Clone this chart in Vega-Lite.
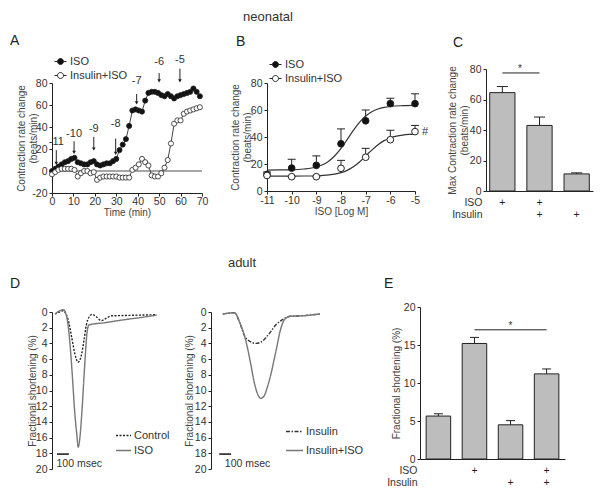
{
"$schema":"https://vega.github.io/schema/vega-lite/v6.json",
"autosize":{"type":"none"},
"padding":{"left":52,"top":69,"right":550,"bottom":426},
"background":"white",
"config":{
 "font":"Liberation Sans",
 "view":{"stroke":null},
 "axis":{"labelFontSize":10.5,"labelColor":"#333","titleFontSize":10,"titleFontWeight":"normal","titleColor":"#444","domainColor":"#222","tickColor":"#222","grid":false,"tickSize":3,"labelPadding":2,"titlePadding":4,"labelOverlap":false,"labelFlush":false,"titleLineHeight":12},
 "title":{"fontWeight":"normal","fontSize":14,"color":"#222","anchor":"start","frame":"group"},
 "legend":{"labelFontSize":11,"labelColor":"#333","padding":0,"rowPadding":2}
},
"datasets":{
 "tc":[
  {"t":0,"v":0,"s":"ISO"},{"t":1.5,"v":2,"s":"ISO"},{"t":3,"v":4,"s":"ISO"},{"t":4.5,"v":6,"s":"ISO"},{"t":6,"v":8,"s":"ISO"},{"t":7.5,"v":9,"s":"ISO"},{"t":9,"v":11,"s":"ISO"},{"t":10.5,"v":12,"s":"ISO"},{"t":12,"v":8,"s":"ISO"},{"t":13.5,"v":7,"s":"ISO"},{"t":15,"v":6,"s":"ISO"},{"t":16.5,"v":6,"s":"ISO"},{"t":18,"v":8,"s":"ISO"},{"t":19.5,"v":9,"s":"ISO"},{"t":21,"v":6,"s":"ISO"},{"t":22.5,"v":5,"s":"ISO"},{"t":24,"v":6,"s":"ISO"},{"t":25.5,"v":7,"s":"ISO"},{"t":27,"v":7,"s":"ISO"},{"t":28.5,"v":9,"s":"ISO"},{"t":30,"v":11,"s":"ISO"},{"t":31.5,"v":19,"s":"ISO"},{"t":33,"v":24,"s":"ISO"},{"t":34.5,"v":29,"s":"ISO"},{"t":36,"v":41,"s":"ISO"},{"t":37.5,"v":55,"s":"ISO"},{"t":39,"v":56,"s":"ISO"},{"t":40.5,"v":55,"s":"ISO"},{"t":42,"v":54,"s":"ISO"},{"t":43.5,"v":64,"s":"ISO"},{"t":45,"v":71,"s":"ISO"},{"t":46.5,"v":72,"s":"ISO"},{"t":48,"v":72,"s":"ISO"},{"t":49.5,"v":71,"s":"ISO"},{"t":51,"v":69,"s":"ISO"},{"t":52.5,"v":68,"s":"ISO"},{"t":54,"v":70,"s":"ISO"},{"t":55.5,"v":68,"s":"ISO"},{"t":57,"v":66,"s":"ISO"},{"t":58.5,"v":68,"s":"ISO"},{"t":60,"v":69,"s":"ISO"},{"t":61.5,"v":70,"s":"ISO"},{"t":63,"v":71,"s":"ISO"},{"t":64.5,"v":72,"s":"ISO"},{"t":66,"v":75,"s":"ISO"},{"t":67.5,"v":72,"s":"ISO"},{"t":69,"v":68,"s":"ISO"},
  {"t":0,"v":-3,"s":"Insulin+ISO"},{"t":1.5,"v":-1,"s":"Insulin+ISO"},{"t":3,"v":1,"s":"Insulin+ISO"},{"t":4.5,"v":2,"s":"Insulin+ISO"},{"t":6,"v":2,"s":"Insulin+ISO"},{"t":7.5,"v":2,"s":"Insulin+ISO"},{"t":9,"v":2,"s":"Insulin+ISO"},{"t":10.5,"v":1,"s":"Insulin+ISO"},{"t":12,"v":-5,"s":"Insulin+ISO"},{"t":13.5,"v":-2,"s":"Insulin+ISO"},{"t":15,"v":0,"s":"Insulin+ISO"},{"t":16.5,"v":0,"s":"Insulin+ISO"},{"t":18,"v":-2,"s":"Insulin+ISO"},{"t":19.5,"v":-1,"s":"Insulin+ISO"},{"t":21,"v":-8,"s":"Insulin+ISO"},{"t":22.5,"v":-6,"s":"Insulin+ISO"},{"t":24,"v":-5,"s":"Insulin+ISO"},{"t":25.5,"v":-5,"s":"Insulin+ISO"},{"t":27,"v":-5,"s":"Insulin+ISO"},{"t":28.5,"v":-5,"s":"Insulin+ISO"},{"t":30,"v":-5,"s":"Insulin+ISO"},{"t":31.5,"v":-6,"s":"Insulin+ISO"},{"t":33,"v":-6,"s":"Insulin+ISO"},{"t":34.5,"v":-6,"s":"Insulin+ISO"},{"t":36,"v":-6,"s":"Insulin+ISO"},{"t":37.5,"v":1,"s":"Insulin+ISO"},{"t":39,"v":3,"s":"Insulin+ISO"},{"t":40.5,"v":6,"s":"Insulin+ISO"},{"t":42,"v":11,"s":"Insulin+ISO"},{"t":43.5,"v":8,"s":"Insulin+ISO"},{"t":45,"v":5,"s":"Insulin+ISO"},{"t":46.5,"v":-4,"s":"Insulin+ISO"},{"t":48,"v":-5,"s":"Insulin+ISO"},{"t":49.5,"v":-5,"s":"Insulin+ISO"},{"t":51,"v":-2,"s":"Insulin+ISO"},{"t":52.5,"v":3,"s":"Insulin+ISO"},{"t":54,"v":10,"s":"Insulin+ISO"},{"t":55.5,"v":25,"s":"Insulin+ISO"},{"t":57,"v":43,"s":"Insulin+ISO"},{"t":58.5,"v":46,"s":"Insulin+ISO"},{"t":60,"v":46,"s":"Insulin+ISO"},{"t":61.5,"v":52,"s":"Insulin+ISO"},{"t":63,"v":54,"s":"Insulin+ISO"},{"t":64.5,"v":55,"s":"Insulin+ISO"},{"t":66,"v":56,"s":"Insulin+ISO"},{"t":67.5,"v":57,"s":"Insulin+ISO"},{"t":69,"v":58,"s":"Insulin+ISO"}
 ],
 "arrows":[
  {"lab":"-11","t":2,"top":19,"tip":7,"ly":26},
  {"lab":"-10","t":10.3,"top":27,"tip":17,"ly":34},
  {"lab":"-9","t":19.5,"top":31,"tip":20,"ly":38},
  {"lab":"-8","t":29.7,"top":29.5,"tip":16,"ly":43},
  {"lab":"-7","t":39.5,"top":70,"tip":62,"ly":82},
  {"lab":"-6","t":50,"top":89,"tip":82,"ly":99},
  {"lab":"-5","t":59.7,"top":93,"tip":82,"ly":101}
 ],
 "dose":[
  {"x":-11,"v":12.3,"e":14,"s":"ISO"},{"x":-10,"v":17,"e":23.5,"s":"ISO"},{"x":-9,"v":19,"e":26,"s":"ISO"},{"x":-8,"v":35,"e":46,"s":"ISO"},{"x":-7,"v":52,"e":60,"s":"ISO"},{"x":-6,"v":64.7,"e":68.7,"s":"ISO"},{"x":-5,"v":64.7,"e":72,"s":"ISO"},
  {"x":-11,"v":11.5,"e":11.5,"s":"Insulin+ISO"},{"x":-10,"v":10.6,"e":10.6,"s":"Insulin+ISO"},{"x":-9,"v":10.6,"e":10.6,"s":"Insulin+ISO"},{"x":-8,"v":16.8,"e":22.7,"s":"Insulin+ISO"},{"x":-7,"v":25,"e":31.6,"s":"Insulin+ISO"},{"x":-6,"v":38,"e":45,"s":"Insulin+ISO"},{"x":-5,"v":44,"e":48.6,"s":"Insulin+ISO"}
 ],
 "fit":[
  {"x":-11,"v":15.5,"s":"ISO"},{"x":-10.5,"v":15.6,"s":"ISO"},{"x":-10,"v":15.7,"s":"ISO"},{"x":-9.5,"v":16.3,"s":"ISO"},{"x":-9,"v":17.8,"s":"ISO"},{"x":-8.75,"v":19.4,"s":"ISO"},{"x":-8.5,"v":22.1,"s":"ISO"},{"x":-8.25,"v":26.1,"s":"ISO"},{"x":-8,"v":31.5,"s":"ISO"},{"x":-7.75,"v":38.1,"s":"ISO"},{"x":-7.5,"v":44.9,"s":"ISO"},{"x":-7.25,"v":50.9,"s":"ISO"},{"x":-7,"v":55.5,"s":"ISO"},{"x":-6.75,"v":58.7,"s":"ISO"},{"x":-6.5,"v":60.7,"s":"ISO"},{"x":-6.25,"v":61.9,"s":"ISO"},{"x":-6,"v":62.6,"s":"ISO"},{"x":-5.5,"v":63.2,"s":"ISO"},{"x":-5,"v":63.4,"s":"ISO"},
  {"x":-11,"v":11,"s":"Insulin+ISO"},{"x":-10,"v":11,"s":"Insulin+ISO"},{"x":-9.5,"v":11.1,"s":"Insulin+ISO"},{"x":-9,"v":11.3,"s":"Insulin+ISO"},{"x":-8.5,"v":11.9,"s":"Insulin+ISO"},{"x":-8.25,"v":12.5,"s":"Insulin+ISO"},{"x":-8,"v":13.6,"s":"Insulin+ISO"},{"x":-7.75,"v":15.3,"s":"Insulin+ISO"},{"x":-7.5,"v":17.9,"s":"Insulin+ISO"},{"x":-7.25,"v":21.5,"s":"Insulin+ISO"},{"x":-7,"v":25.9,"s":"Insulin+ISO"},{"x":-6.75,"v":30.3,"s":"Insulin+ISO"},{"x":-6.5,"v":34.2,"s":"Insulin+ISO"},{"x":-6.25,"v":37.3,"s":"Insulin+ISO"},{"x":-6,"v":39.3,"s":"Insulin+ISO"},{"x":-5.75,"v":40.6,"s":"Insulin+ISO"},{"x":-5.5,"v":41.4,"s":"Insulin+ISO"},{"x":-5.25,"v":41.9,"s":"Insulin+ISO"},{"x":-5,"v":42.2,"s":"Insulin+ISO"}
 ],
 "barsC":[{"g":"a","v":64.5,"e":68.5},{"g":"b","v":43,"e":48.5},{"g":"c","v":11.2,"e":11.9}],
 "barsE":[{"g":"ctl","v":5.65,"e":5.95},{"g":"iso","v":15.2,"e":16},{"g":"ins","v":4.5,"e":5.05},{"g":"insiso","v":11.2,"e":11.85}],
 "trD":[
  {"ms":25,"v":0.25,"s":"Control"},{"ms":60,"v":0.0,"s":"Control"},{"ms":95,"v":-0.15,"s":"Control"},{"ms":122,"v":0.4,"s":"Control"},{"ms":136,"v":1.0,"s":"Control"},{"ms":164,"v":3.1,"s":"Control"},{"ms":192,"v":5.3,"s":"Control"},{"ms":219,"v":6.4,"s":"Control"},{"ms":247,"v":5.5,"s":"Control"},{"ms":269,"v":3.6,"s":"Control"},{"ms":289,"v":1.65,"s":"Control"},{"ms":311,"v":0.67,"s":"Control"},{"ms":339,"v":0.3,"s":"Control"},{"ms":372,"v":0.6,"s":"Control"},{"ms":414,"v":1.1,"s":"Control"},{"ms":455,"v":0.8,"s":"Control"},{"ms":497,"v":0.5,"s":"Control"},{"ms":600,"v":0.45,"s":"Control"},{"ms":719,"v":0.4,"s":"Control"},{"ms":880,"v":0.35,"s":"Control"},
  {"ms":25,"v":0.25,"s":"ISO"},{"ms":60,"v":-0.1,"s":"ISO"},{"ms":95,"v":-0.3,"s":"ISO"},{"ms":122,"v":0.5,"s":"ISO"},{"ms":137,"v":1.9,"s":"ISO"},{"ms":152,"v":4.2,"s":"ISO"},{"ms":166,"v":7.0,"s":"ISO"},{"ms":177,"v":9.5,"s":"ISO"},{"ms":188,"v":12.1,"s":"ISO"},{"ms":198,"v":14.0,"s":"ISO"},{"ms":208,"v":15.5,"s":"ISO"},{"ms":221,"v":17.2,"s":"ISO"},{"ms":230,"v":16.6,"s":"ISO"},{"ms":238,"v":15.5,"s":"ISO"},{"ms":248,"v":13.5,"s":"ISO"},{"ms":258,"v":11.2,"s":"ISO"},{"ms":268,"v":8.5,"s":"ISO"},{"ms":278,"v":6.1,"s":"ISO"},{"ms":286,"v":4.2,"s":"ISO"},{"ms":294,"v":2.7,"s":"ISO"},{"ms":311,"v":1.65,"s":"ISO"},{"ms":450,"v":1.35,"s":"ISO"},{"ms":600,"v":1.0,"s":"ISO"},{"ms":750,"v":0.7,"s":"ISO"},{"ms":880,"v":0.4,"s":"ISO"}
 ],
 "trD2":[
  {"ms":100,"v":0.25,"s":"Insulin"},{"ms":200,"v":0.1,"s":"Insulin"},{"ms":242,"v":1.3,"s":"Insulin"},{"ms":283,"v":3.0,"s":"Insulin"},{"ms":325,"v":3.7,"s":"Insulin"},{"ms":381,"v":4.0,"s":"Insulin"},{"ms":436,"v":3.7,"s":"Insulin"},{"ms":491,"v":2.8,"s":"Insulin"},{"ms":547,"v":1.7,"s":"Insulin"},{"ms":602,"v":1.0,"s":"Insulin"},{"ms":672,"v":0.55,"s":"Insulin"},{"ms":783,"v":0.47,"s":"Insulin"},{"ms":922,"v":0.25,"s":"Insulin"},
  {"ms":100,"v":0.25,"s":"Insulin+ISO"},{"ms":200,"v":0.1,"s":"Insulin+ISO"},{"ms":242,"v":1.3,"s":"Insulin+ISO"},{"ms":283,"v":3.0,"s":"Insulin+ISO"},{"ms":311,"v":4.7,"s":"Insulin+ISO"},{"ms":339,"v":6.8,"s":"Insulin+ISO"},{"ms":367,"v":9.0,"s":"Insulin+ISO"},{"ms":394,"v":10.4,"s":"Insulin+ISO"},{"ms":422,"v":11.0,"s":"Insulin+ISO"},{"ms":450,"v":10.7,"s":"Insulin+ISO"},{"ms":477,"v":9.6,"s":"Insulin+ISO"},{"ms":505,"v":8.1,"s":"Insulin+ISO"},{"ms":533,"v":6.2,"s":"Insulin+ISO"},{"ms":560,"v":4.3,"s":"Insulin+ISO"},{"ms":583,"v":2.6,"s":"Insulin+ISO"},{"ms":610,"v":1.3,"s":"Insulin+ISO"},{"ms":644,"v":0.7,"s":"Insulin+ISO"},{"ms":672,"v":0.55,"s":"Insulin+ISO"},{"ms":783,"v":0.47,"s":"Insulin+ISO"},{"ms":922,"v":0.25,"s":"Insulin+ISO"}
 ]
},
"bounds":"flush",
"spacing":238,
"resolve":{"scale":{"fill":"independent","color":"independent","strokeDash":"independent"}},
"vconcat":[
 {
  "title":{"text":"neonatal","anchor":"middle","frame":"group","dx":216,"offset":10,"fontSize":13,"color":"#333"},
  "bounds":"flush","spacing":434,
  "resolve":{"scale":{"fill":"independent","color":"independent","strokeDash":"independent"}},
  "hconcat":[
   {
    "bounds":"flush","spacing":13,
    "resolve":{"scale":{"fill":"independent","color":"independent","strokeDash":"independent"}},
    "vconcat":[
     {"width":1,"height":1,"data":{"values":[]},"mark":"point"},
     {
      "bounds":"flush","spacing":65,
      "resolve":{"scale":{"fill":"independent","color":"independent","strokeDash":"independent"}},
      "hconcat":[
       {
        "width":150,"height":110,
        "title":{"text":"A","dx":-42,"offset":6},
        "layer":[
         {"data":{"values":[{"z":0}]},"mark":{"type":"rule","color":"#888","strokeWidth":1.5},
          "encoding":{"y":{"field":"z","type":"quantitative","scale":{"domain":[-20,80]},"axis":{"values":[-20,0,20,40,60,80],"tickCount":50,"labelExpr":"''+datum.value","titlePadding":-7},"title":["Contraction rate change","(beats/min)"]}}},
         {"data":{"name":"tc"},"mark":{"type":"line","color":"#444","strokeWidth":1},
          "encoding":{"x":{"field":"t","type":"quantitative","scale":{"domain":[0,70]},"axis":{"values":[0,10,20,30,40,50,60,70],"tickCount":50,"format":"d","labelPadding":0,"titlePadding":1},"title":"Time (min)"},
           "y":{"field":"v","type":"quantitative","title":["Contraction rate change","(beats/min)"]},"detail":{"field":"s"}}},
         {"data":{"name":"tc"},"mark":{"type":"point","filled":true,"stroke":"#222","strokeWidth":0.8,"size":26,"opacity":1},
          "encoding":{"x":{"field":"t","type":"quantitative","title":"Time (min)"},
           "y":{"field":"v","type":"quantitative","title":["Contraction rate change","(beats/min)"]},
           "fill":{"field":"s","type":"nominal","scale":{"domain":["ISO","Insulin+ISO"],"range":["#111","#fff"]},
            "legend":{"title":null,"orient":"none","legendX":3,"legendY":-27,"symbolType":"M -1.5 0 L -0.75 0 M 0.75 0 L 1.5 0 M 0.75 0 A 0.75 0.75 0 1 1 -0.75 0 A 0.75 0.75 0 1 1 0.75 0","symbolSize":64,"symbolStrokeColor":"#222","symbolStrokeWidth":1,"labelOffset":4,"rowPadding":2}}}},
         {"data":{"name":"arrows"},"mark":{"type":"rule","color":"#222","strokeWidth":1},
          "encoding":{"x":{"field":"t","type":"quantitative","title":"Time (min)"},"y":{"field":"top","type":"quantitative","title":["Contraction rate change","(beats/min)"]},"y2":{"field":"tip"}}},
         {"data":{"name":"arrows"},"mark":{"type":"point","shape":"triangle-down","filled":true,"color":"#222","size":14,"opacity":1},
          "encoding":{"x":{"field":"t","type":"quantitative","title":"Time (min)"},"y":{"field":"tip","type":"quantitative","title":["Contraction rate change","(beats/min)"]}}},
         {"data":{"name":"arrows"},"mark":{"type":"text","fontSize":11,"color":"#333","baseline":"middle"},
          "encoding":{"x":{"field":"t","type":"quantitative","title":"Time (min)"},"y":{"field":"ly","type":"quantitative","title":["Contraction rate change","(beats/min)"]},"text":{"field":"lab"}}}
        ]
       },
       {
        "width":148,"height":108,
        "title":{"text":"B","dx":-31,"offset":10},
        "layer":[
         {"data":{"name":"dose"},"mark":{"type":"rule","color":"#222","strokeWidth":1},
          "encoding":{"x":{"field":"x","type":"quantitative","scale":{"domain":[-11,-5]},"axis":{"values":[-11,-10,-9,-8,-7,-6,-5],"tickCount":50,"labelExpr":"''+datum.value","labelPadding":1,"titlePadding":1},"title":"ISO [Log M]"},
           "y":{"field":"v","type":"quantitative","scale":{"domain":[0,80]},"axis":{"values":[0,20,40,60,80],"tickCount":50,"format":"d","titlePadding":-2},"title":["Contraction rate change","(beats/min)"]},"y2":{"field":"e"}}},
         {"data":{"name":"dose"},"mark":{"type":"tick","orient":"horizontal","size":8,"thickness":1,"color":"#222","opacity":1},
          "encoding":{"x":{"field":"x","type":"quantitative","title":"ISO [Log M]"},"y":{"field":"e","type":"quantitative","title":["Contraction rate change","(beats/min)"]}}},
         {"data":{"name":"fit"},"mark":{"type":"line","color":"#333","strokeWidth":1.2,"interpolate":"monotone"},
          "encoding":{"x":{"field":"x","type":"quantitative","title":"ISO [Log M]"},"y":{"field":"v","type":"quantitative","title":["Contraction rate change","(beats/min)"]},"detail":{"field":"s"}}},
         {"data":{"name":"dose"},"mark":{"type":"point","filled":true,"stroke":"#222","strokeWidth":1,"size":45,"opacity":1},
          "encoding":{"x":{"field":"x","type":"quantitative","title":"ISO [Log M]"},"y":{"field":"v","type":"quantitative","title":["Contraction rate change","(beats/min)"]},
           "fill":{"field":"s","type":"nominal","scale":{"domain":["ISO","Insulin+ISO"],"range":["#111","#fff"]},
            "legend":{"title":null,"orient":"none","legendX":3,"legendY":-24,"symbolType":"M -1.5 0 L -0.75 0 M 0.75 0 L 1.5 0 M 0.75 0 A 0.75 0.75 0 1 1 -0.75 0 A 0.75 0.75 0 1 1 0.75 0","symbolSize":64,"symbolStrokeColor":"#222","symbolStrokeWidth":1,"labelOffset":4,"rowPadding":2}}}},
         {"data":{"values":[{"x":-5,"v":44,"lab":"#"}]},"mark":{"type":"text","fontSize":11,"color":"#333","dx":10,"baseline":"middle"},
          "encoding":{"x":{"field":"x","type":"quantitative","title":"ISO [Log M]"},"y":{"field":"v","type":"quantitative","title":["Contraction rate change","(beats/min)"]},"text":{"field":"lab"}}}
        ]
       }
      ]
     }
    ]
   },
   {
    "width":107,"height":122,
    "title":{"text":"C","dx":-33,"offset":14},
    "layer":[
     {"data":{"name":"barsC"},"mark":{"type":"bar","fill":"#bdbdbd","stroke":"#222","strokeWidth":1},
      "encoding":{"x":{"field":"g","type":"nominal","sort":null,"scale":{"domain":["a","b","c"],"paddingInner":0.32,"paddingOuter":0.1},
        "axis":{"ticks":false,"labelPadding":6,"labelAngle":0,"labelLineHeight":12,"labelFontSize":10.5,"labelColor":"#222","labelExpr":"datum.value=='a'?['+','']:datum.value=='b'?['+','+']:['','+']","titleX":-4,"titleY":6,"titleAlign":"right","titleAngle":0,"titleBaseline":"top","titleFontSize":10.5,"titleLineHeight":12,"titleColor":"#333"},"title":["ISO","Insulin"]},
       "y":{"field":"v","type":"quantitative","scale":{"domain":[0,80]},"axis":{"values":[0,20,40,60,80],"tickCount":50,"format":"d","titlePadding":0},"title":["Max Contraction rate change","(beats/min)"]}}},
     {"data":{"name":"barsC"},"mark":{"type":"rule","color":"#222","strokeWidth":1},
      "encoding":{"x":{"field":"g","type":"nominal","title":["ISO","Insulin"]},"y":{"field":"v","type":"quantitative","title":["Max Contraction rate change","(beats/min)"]},"y2":{"field":"e"}}},
     {"data":{"name":"barsC"},"mark":{"type":"tick","orient":"horizontal","size":11,"thickness":1,"color":"#222","opacity":1},
      "encoding":{"x":{"field":"g","type":"nominal","title":["ISO","Insulin"]},"y":{"field":"e","type":"quantitative","title":["Max Contraction rate change","(beats/min)"]}}},
     {"data":{"values":[{"g":"a","g2":"b","v":77.4}]},"mark":{"type":"rule","color":"#222","strokeWidth":1},
      "encoding":{"x":{"field":"g","type":"nominal","title":["ISO","Insulin"]},"x2":{"field":"g2"},"y":{"field":"v","type":"quantitative","title":["Max Contraction rate change","(beats/min)"]}}},
     {"data":{"values":[{"g":"a","v":80,"lab":"*"}]},"mark":{"type":"text","fontSize":10,"color":"#333","dx":5,"baseline":"middle"},
      "encoding":{"x":{"field":"g","type":"nominal","bandPosition":1,"title":["ISO","Insulin"]},"y":{"field":"v","type":"quantitative","title":["Max Contraction rate change","(beats/min)"]},"text":{"field":"lab"}}}
    ]
   }
  ]
 },
 {
  "title":{"text":"adult","anchor":"middle","frame":"group","dx":190,"offset":7,"fontSize":13,"color":"#333"},
  "bounds":"flush","spacing":368,
  "resolve":{"scale":{"fill":"independent","color":"independent","strokeDash":"independent"}},
  "hconcat":[
   {
    "bounds":"flush","spacing":4,
    "resolve":{"scale":{"fill":"independent","color":"independent","strokeDash":"independent"}},
    "vconcat":[
     {"width":1,"height":1,"data":{"values":[]},"mark":"point"},
     {
      "bounds":"flush","spacing":52,
      "resolve":{"scale":{"fill":"independent","color":"independent","strokeDash":"independent"}},
      "hconcat":[
       {
        "width":107,"height":157,
        "title":{"text":"D","dx":-42,"offset":16},
        "layer":[
         {"data":{"name":"trD"},"mark":{"type":"line","strokeWidth":1.4,"interpolate":"monotone"},
          "encoding":{"x":{"field":"ms","type":"quantitative","scale":{"domain":[0,900]},"axis":null},
           "y":{"field":"v","type":"quantitative","scale":{"domain":[0,20],"reverse":true},"axis":{"values":[0,2,4,6,8,10,12,14,16,18,20],"tickCount":50,"format":"d","titlePadding":-2},"title":"Fractional shortening (%)"},
           "color":{"field":"s","type":"nominal","scale":{"domain":["Control","ISO"],"range":["#222","#777"]},"legend":{"title":null,"orient":"none","legendX":63,"legendY":115,"symbolType":"stroke","symbolSize":225,"symbolStrokeWidth":1.6,"labelOffset":2,"rowPadding":1}},
           "strokeDash":{"field":"s","type":"nominal","scale":{"domain":["Control","ISO"],"range":[[2,1.5],[1,0]]},"legend":{"title":null,"orient":"none","legendX":63,"legendY":115,"symbolType":"stroke","symbolSize":225,"symbolStrokeWidth":1.6,"labelOffset":2,"rowPadding":1}}}},
         {"data":{"values":[{"ms":42,"ms2":142,"v":18.1}]},"mark":{"type":"rule","color":"#111","strokeWidth":1.5},
          "encoding":{"x":{"field":"ms","type":"quantitative","axis":null},"x2":{"field":"ms2"},"y":{"field":"v","type":"quantitative","title":"Fractional shortening (%)"}}},
         {"data":{"values":[{"ms":38,"v":19.3,"lab":"100 msec"}]},"mark":{"type":"text","fontSize":10.5,"color":"#333","align":"left","baseline":"middle"},
          "encoding":{"x":{"field":"ms","type":"quantitative","axis":null},"y":{"field":"v","type":"quantitative","title":"Fractional shortening (%)"},"text":{"field":"lab"}}}
        ]
       },
       {
        "width":118,"height":157,
        "layer":[
         {"data":{"name":"trD2"},"mark":{"type":"line","strokeWidth":1.4,"interpolate":"monotone"},
          "encoding":{"x":{"field":"ms","type":"quantitative","scale":{"domain":[0,983]},"axis":null},
           "y":{"field":"v","type":"quantitative","scale":{"domain":[0,20],"reverse":true},"axis":{"values":[0,2,4,6,8,10,12,14,16,18,20],"tickCount":50,"format":"d","titlePadding":0},"title":"Fractional shortening (%)"},
           "color":{"field":"s","type":"nominal","scale":{"domain":["Insulin","Insulin+ISO"],"range":["#333","#777"]},"legend":{"title":null,"orient":"none","legendX":74,"legendY":110,"symbolType":"stroke","symbolSize":289,"symbolStrokeWidth":1.6,"labelOffset":2,"rowPadding":4}},
           "strokeDash":{"field":"s","type":"nominal","scale":{"domain":["Insulin","Insulin+ISO"],"range":[[4,1.5,1.5,1.5],[1,0]]},"legend":{"title":null,"orient":"none","legendX":74,"legendY":110,"symbolType":"stroke","symbolSize":289,"symbolStrokeWidth":1.6,"labelOffset":2,"rowPadding":4}}}},
         {"data":{"values":[{"ms":70,"ms2":170,"v":18.1}]},"mark":{"type":"rule","color":"#111","strokeWidth":1.5},
          "encoding":{"x":{"field":"ms","type":"quantitative","axis":null},"x2":{"field":"ms2"},"y":{"field":"v","type":"quantitative","title":"Fractional shortening (%)"}}},
         {"data":{"values":[{"ms":117,"v":19.4,"lab":"100 msec"}]},"mark":{"type":"text","fontSize":10.5,"color":"#333","align":"left","baseline":"middle"},
          "encoding":{"x":{"field":"ms","type":"quantitative","axis":null},"y":{"field":"v","type":"quantitative","title":"Fractional shortening (%)"},"text":{"field":"lab"}}}
        ]
       }
      ]
     }
    ]
   },
   {
    "width":145,"height":152,
    "title":{"text":"E","dx":-36,"offset":11},
    "layer":[
     {"data":{"name":"barsE"},"mark":{"type":"bar","fill":"#bdbdbd","stroke":"#222","strokeWidth":1},
      "encoding":{"x":{"field":"g","type":"nominal","sort":null,"scale":{"domain":["ctl","iso","ins","insiso"],"paddingInner":0.32,"paddingOuter":0.17},
        "axis":{"ticks":false,"labelPadding":6,"labelAngle":0,"labelLineHeight":12,"labelFontSize":10.5,"labelColor":"#222","labelExpr":"datum.value=='ctl'?['','']:datum.value=='iso'?['+','']:datum.value=='ins'?['','+']:['+','+']","titleX":-3,"titleY":6,"titleAlign":"right","titleAngle":0,"titleBaseline":"top","titleFontSize":10.5,"titleLineHeight":12,"titleColor":"#333"},"title":["ISO","Insulin"]},
       "y":{"field":"v","type":"quantitative","scale":{"domain":[0,20]},"axis":{"values":[0,5,10,15,20],"tickCount":50,"format":"d","titlePadding":2},"title":"Fractional shortening (%)"}}},
     {"data":{"name":"barsE"},"mark":{"type":"rule","color":"#222","strokeWidth":1},
      "encoding":{"x":{"field":"g","type":"nominal","title":["ISO","Insulin"]},"y":{"field":"v","type":"quantitative","title":"Fractional shortening (%)"},"y2":{"field":"e"}}},
     {"data":{"name":"barsE"},"mark":{"type":"tick","orient":"horizontal","size":9,"thickness":1,"color":"#222","opacity":1},
      "encoding":{"x":{"field":"g","type":"nominal","title":["ISO","Insulin"]},"y":{"field":"e","type":"quantitative","title":"Fractional shortening (%)"}}},
     {"data":{"values":[{"g":"iso","g2":"insiso","v":17}]},"mark":{"type":"rule","color":"#222","strokeWidth":1},
      "encoding":{"x":{"field":"g","type":"nominal","title":["ISO","Insulin"]},"x2":{"field":"g2"},"y":{"field":"v","type":"quantitative","title":"Fractional shortening (%)"}}},
     {"data":{"values":[{"g":"ins","v":17.5,"lab":"*"}]},"mark":{"type":"text","fontSize":10,"color":"#333","baseline":"middle"},
      "encoding":{"x":{"field":"g","type":"nominal","title":["ISO","Insulin"]},"y":{"field":"v","type":"quantitative","title":"Fractional shortening (%)"},"text":{"field":"lab"}}}
    ]
   }
  ]
 }
]
}
